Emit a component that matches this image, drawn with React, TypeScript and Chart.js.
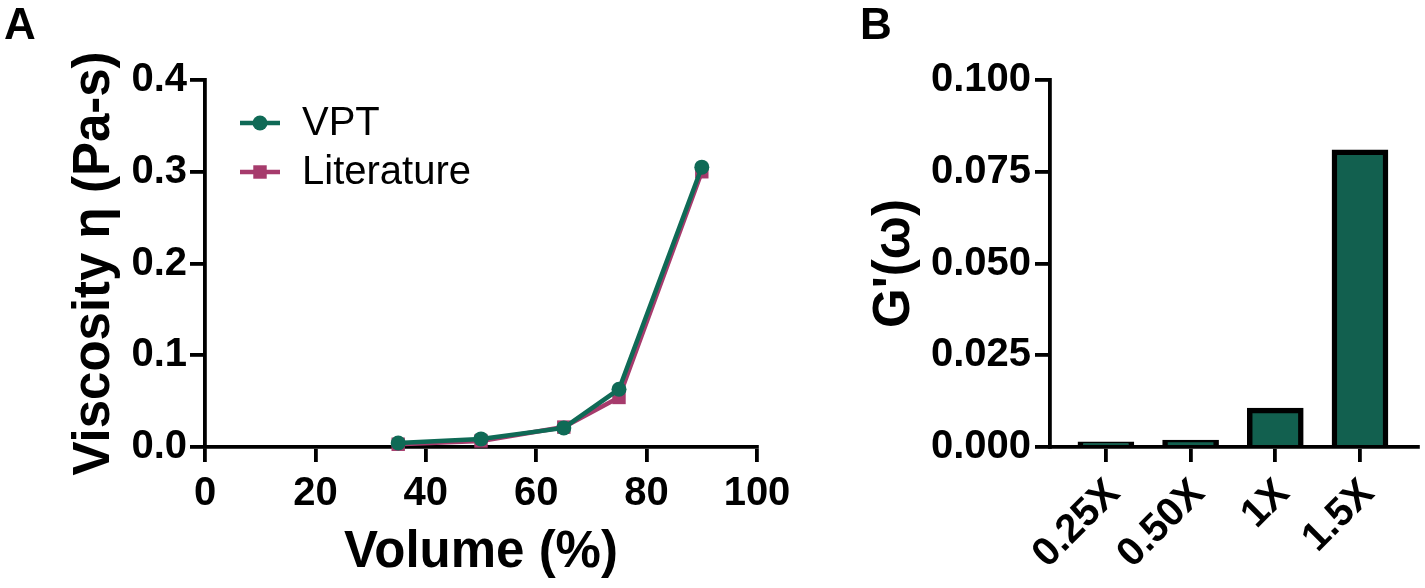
import React, { useEffect, useRef } from "react";
import { Chart, registerables } from "chart.js";

Chart.register(...registerables);

// Panel A: viscosity vs. volume fraction
const volumes = [35, 50, 65, 75, 90];
const vptViscosity = [0.0043, 0.0088, 0.0208, 0.063, 0.305];
const literatureViscosity = [0.003, 0.0066, 0.0217, 0.054, 0.3];
const volumeTicks = [0, 20, 40, 60, 80, 100];
const viscosityTicks = [0, 0.1, 0.2, 0.3, 0.4];

// Panel B: storage modulus per concentration
const concentrations = ["0.25X", "0.50X", "1X", "1.5X"];
const storageModulus = [0.0014, 0.0019, 0.0106, 0.081];
const modulusTicks = [0, 0.025, 0.05, 0.075, 0.1];

const GREEN = "#0f6a56";
const BAR_GREEN = "#12604f";
const MAGENTA = "#a63b6c";
const FONT = "'Liberation Sans', Arial, sans-serif";
const AXIS_W = 3.8;
const TICK_LEN = 15;
const TICK_FONT = { family: FONT, size: 40, weight: "bold" };
const TITLE_FONT = { family: FONT, size: 51, weight: "bold" };

const fixedWidth = (w: number) => (scale: any) => {
  scale.width = w;
};
const fixedHeight = (h: number) => (scale: any) => {
  scale.height = h;
};

const axisGrid = {
  display: true,
  drawOnChartArea: false,
  drawTicks: true,
  offset: false,
  tickLength: TICK_LEN,
  lineWidth: AXIS_W,
  color: "#000",
};
const axisBorder = { display: true, width: AXIS_W, color: "#000" };

// Legend drawn next to the y axis, using each dataset's own style
const sideLegend = {
  id: "sideLegend",
  afterDraw(chart: any) {
    const { ctx, chartArea } = chart;
    const x0 = chartArea.left + 35;
    const rows = [123, 172];
    chart.data.datasets.forEach((ds: any, i: number) => {
      const y = rows[i];
      ctx.save();
      ctx.strokeStyle = ds.borderColor;
      ctx.lineWidth = 4.5;
      ctx.beginPath();
      ctx.moveTo(x0, y);
      ctx.lineTo(x0 + 40, y);
      ctx.stroke();
      ctx.fillStyle = ds.pointBackgroundColor;
      const cx = x0 + 20;
      if (ds.pointStyle === "rect") {
        const s = ds.pointRadius * Math.SQRT1_2;
        ctx.fillRect(cx - s, y - s, 2 * s, 2 * s);
      } else {
        ctx.beginPath();
        ctx.arc(cx, y, ds.pointRadius, 0, Math.PI * 2);
        ctx.fill();
      }
      ctx.fillStyle = "#000";
      ctx.font = `40px ${FONT}`;
      ctx.textBaseline = "middle";
      ctx.textAlign = "left";
      ctx.fillText(ds.label, x0 + 62, y + 1);
      ctx.restore();
    });
  },
};

function ViscosityChart() {
  const ref = useRef<HTMLCanvasElement>(null);
  useEffect(() => {
    const chart = new Chart(ref.current!, {
      type: "line",
      data: {
        datasets: [
          {
            label: "VPT",
            data: volumes.map((v, i) => ({ x: v, y: vptViscosity[i] })),
            borderColor: GREEN,
            backgroundColor: GREEN,
            pointBackgroundColor: GREEN,
            pointBorderWidth: 0,
            borderWidth: 4.5,
            pointRadius: 7.5,
            pointStyle: "circle",
            clip: false,
          },
          {
            label: "Literature",
            data: volumes.map((v, i) => ({ x: v, y: literatureViscosity[i] })),
            borderColor: MAGENTA,
            backgroundColor: MAGENTA,
            pointBackgroundColor: MAGENTA,
            pointBorderWidth: 0,
            borderWidth: 4.5,
            pointRadius: 9.5,
            pointStyle: "rect",
            clip: false,
          },
        ],
      },
      options: {
        animation: false,
        responsive: false,
        layout: { padding: { left: 0, top: 80, right: 43, bottom: 0 } },
        plugins: { legend: { display: false }, tooltip: { enabled: false } },
        scales: {
          x: {
            type: "linear",
            min: 0,
            max: 100,
            afterFit: fixedHeight(141),
            afterBuildTicks: (s: any) => {
              s.ticks = volumeTicks.map((v) => ({ value: v }));
            },
            grid: axisGrid,
            border: axisBorder,
            ticks: {
              color: "#000",
              padding: 8,
              maxRotation: 0,
              font: TICK_FONT,
            },
            title: {
              display: true,
              text: "Volume (%)",
              color: "#000",
              padding: { top: 12 },
              font: TITLE_FONT,
            },
          },
          y: {
            type: "linear",
            min: 0,
            max: 0.4,
            afterFit: fixedWidth(205),
            afterBuildTicks: (s: any) => {
              s.ticks = viscosityTicks.map((v) => ({ value: v }));
            },
            grid: axisGrid,
            border: axisBorder,
            ticks: {
              color: "#000",
              padding: 3,
              callback: (v: any) => Number(v).toFixed(1),
              font: TICK_FONT,
            },
            title: {
              display: true,
              text: "Viscosity η (Pa-s)",
              color: "#000",
              padding: { top: 64, bottom: 0 },
              font: TITLE_FONT,
            },
          },
        },
      },
      plugins: [sideLegend],
    } as any);
    return () => chart.destroy();
  }, []);
  return <canvas ref={ref} width={800} height={588} />;
}

function ModulusChart() {
  const ref = useRef<HTMLCanvasElement>(null);
  useEffect(() => {
    const chart = new Chart(ref.current!, {
      type: "bar",
      data: {
        datasets: [
          {
            label: "G'(ω)",
            data: storageModulus.map((v, i) => ({ x: i, y: v })),
            backgroundColor: BAR_GREEN,
            borderColor: "#000",
            borderWidth: 5.5,
            barThickness: 56,
            borderSkipped: "start",
          },
        ],
      },
      options: {
        animation: false,
        responsive: false,
        layout: { padding: { left: 0, top: 80, right: 7, bottom: 0 } },
        plugins: { legend: { display: false }, tooltip: { enabled: false } },
        scales: {
          x: {
            type: "linear",
            min: -0.66,
            max: 3.685,
            offset: false,
            afterFit: fixedHeight(141),
            afterBuildTicks: (s: any) => {
              s.ticks = concentrations.map((_, i) => ({ value: i }));
            },
            grid: axisGrid,
            border: axisBorder,
            ticks: {
              color: "#000",
              padding: 8,
              labelOffset: 8,
              minRotation: 45,
              maxRotation: 45,
              callback: (v: any) => concentrations[Math.round(Number(v))] ?? "",
              font: TICK_FONT,
            },
          },
          y: {
            type: "linear",
            min: 0,
            max: 0.1,
            afterFit: fixedWidth(200),
            afterBuildTicks: (s: any) => {
              s.ticks = modulusTicks.map((v) => ({ value: v }));
            },
            grid: axisGrid,
            border: axisBorder,
            ticks: {
              color: "#000",
              padding: 4,
              callback: (v: any) => Number(v).toFixed(3),
              font: TICK_FONT,
            },
            title: {
              display: true,
              text: "G'(ω)",
              color: "#000",
              padding: { top: 14, bottom: 0 },
              font: TITLE_FONT,
            },
          },
        },
      },
    } as any);
    return () => chart.destroy();
  }, []);
  return <canvas ref={ref} width={575} height={588} />;
}

const panelLetter: React.CSSProperties = {
  position: "absolute",
  top: 0,
  fontFamily: FONT,
  fontWeight: "bold",
  fontSize: 44,
  lineHeight: "48px",
  color: "#000",
};

export default function App() {
  return (
    <div
      style={{
        position: "absolute",
        left: 0,
        top: 0,
        width: 1425,
        height: 588,
        background: "#fff",
        overflow: "hidden",
      }}
    >
      <div style={{ position: "absolute", left: 0, top: 0 }}>
        <ViscosityChart />
      </div>
      <div style={{ position: "absolute", left: 850, top: 0 }}>
        <ModulusChart />
      </div>
      <div style={{ ...panelLetter, left: 4 }}>A</div>
      <div style={{ ...panelLetter, left: 860 }}>B</div>
    </div>
  );
}
